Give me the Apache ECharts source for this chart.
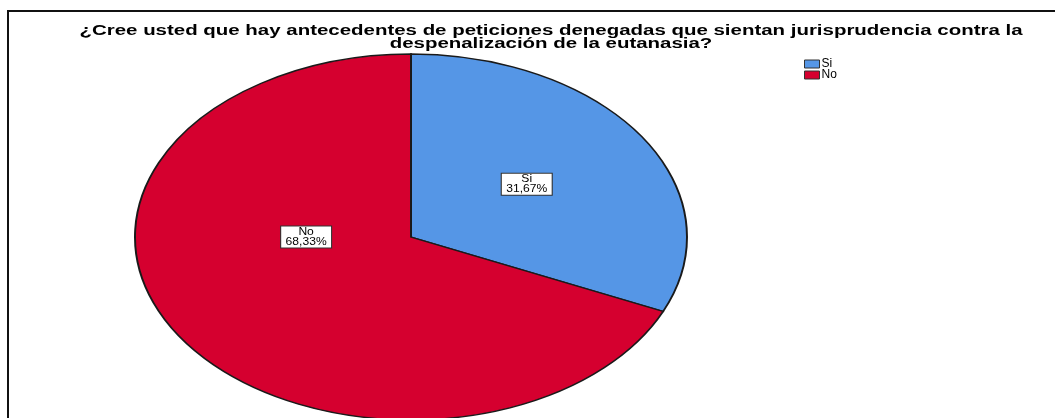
<!DOCTYPE html>
<html>
<head>
  <meta charset="utf-8" />
  <title>ECharts</title>
  <script src="https://cdn.jsdelivr.net/npm/echarts@6/dist/echarts.min.js"></script>
  <style>
    html, body { margin: 0; padding: 0; background: #fff; }
  </style>
</head>
<body>
<div id="main" style="width: 1055px;height:418px;"></div>
<script type="text/javascript">
  // datos
  var titleLines = [
    '¿Cree usted que hay antecedentes de peticiones denegadas que sientan jurisprudencia contra la',
    'despenalización de la eutanasia?'
  ];
  var categories = ['Si', 'No'];
  var percents = [31.67, 68.33];
  var colors = ['#5596e6', '#d5002f'];

  // layout of the (elliptical) pie, SPSS style
  var CX = 411, CY = 237, RX = 276, RY = 183;
  // the original picture is stretched sideways, so text is too
  var TITLE_FONT = 'bold 14px "Liberation Sans"';
  var TITLE_WIDTH = 943;

  function fmt(v) {
    return v.toFixed(2).replace('.', ',') + '%';
  }

  var ctx = document.createElement('canvas').getContext('2d');
  ctx.font = TITLE_FONT;
  var titleStretch = TITLE_WIDTH / ctx.measureText(titleLines[0]).width;

  var total = percents.reduce(function (a, b) { return a + b; }, 0);

  var chartDom = document.getElementById('main');
  var myChart = echarts.init(chartDom);

  var series = categories.map(function (name, i) {
    return {
      type: 'custom',
      name: name,
      coordinateSystem: 'none',
      itemStyle: { color: colors[i] },
      data: [[percents[i]]],
      renderItem: function (params, api) {
        var before = 0;
        for (var k = 0; k < i; k++) before += percents[k];
        var v = api.value(0);
        var a0 = -Math.PI / 2 + 2 * Math.PI * before / total;
        var a1 = -Math.PI / 2 + 2 * Math.PI * (before + v) / total;
        // label at half radius on mid angle; the "No" label was moved by hand in the original
        var la = (a0 + a1) / 2, lr = 0.5;
        if (name === 'No') { la = Math.PI; lr = 0.38; }
        var lx = CX + Math.cos(la) * RX * lr;
        var ly = CY + Math.sin(la) * RY * lr - (name === 'Si' ? 3 : 0);
        return {
          type: 'group',
          children: [
            {
              type: 'sector',
              x: CX, y: CY,
              scaleX: RX / RY,
              shape: { cx: 0, cy: 0, r0: 0, r: RY, startAngle: a0, endAngle: a1, clockwise: true },
              style: { fill: colors[i], stroke: '#1a1a1a', lineWidth: 1.3, strokeNoScale: true }
            },
            {
              type: 'text',
              x: lx, y: ly,
              z2: 10,
              scaleX: 1.1,
              style: {
                text: name + '\n' + fmt(v),
                fontFamily: 'Liberation Sans',
                fontSize: 11,
                lineHeight: 10,
                fill: '#000',
                align: 'center',
                verticalAlign: 'middle',
                backgroundColor: '#fff',
                borderColor: '#333',
                borderWidth: 1,
                padding: [1, 4, 0, 4]
              }
            }
          ]
        };
      }
    };
  });

  var option = {
    animation: false,
    backgroundColor: '#fff',
    legend: {
      data: categories,
      orient: 'vertical',
      left: 799,
      top: 53,
      icon: 'rect',
      itemWidth: 15,
      itemHeight: 8,
      itemGap: -1,
      itemStyle: { borderColor: '#333', borderWidth: 1 },
      textStyle: { fontFamily: 'Liberation Sans', fontSize: 12, color: '#000', padding: [0, 0, 0, -3] },
      selectedMode: false
    },
    graphic: [
      {
        type: 'polyline',
        shape: { points: [[8, 430], [8, 11], [1060, 11]] },
        style: { stroke: '#111', lineWidth: 2, fill: null },
        silent: true
      },
      {
        type: 'text',
        x: 551,
        y: 25,
        scaleX: titleStretch,
        style: {
          text: titleLines.join('\n'),
          font: TITLE_FONT,
          lineHeight: 13,
          fill: '#000',
          align: 'center',
          verticalAlign: 'top'
        }
      }
    ],
    series: series
  };

  option && myChart.setOption(option);
</script>
</body>
</html>
